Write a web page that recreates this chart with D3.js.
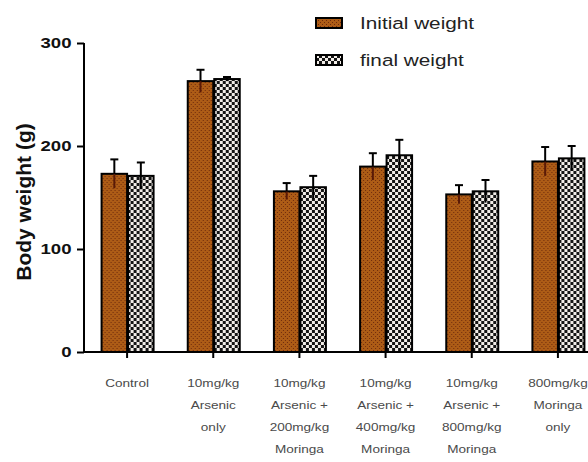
<!DOCTYPE html>
<html>
<head>
<meta charset="utf-8">
<script src="https://cdn.jsdelivr.net/npm/d3@7"></script>
<style>
  html, body { margin: 0; padding: 0; background: #fff; }
  svg { display: block; font-family: Arial, "Liberation Sans", sans-serif; }
</style>
</head>
<body>
<svg id="chart" width="588" height="462"></svg>
<script>
// Group labels (multi-line) and body weight means / SEM per group
const groups = ["Control", "Arsenic only", "Arsenic+200 Moringa", "Arsenic+400 Moringa", "Arsenic+800 Moringa", "Moringa only"];
const groupLabels = [
  ["Control"],
  ["10mg/kg", "Arsenic", "only"],
  ["10mg/kg", "Arsenic +", "200mg/kg", "Moringa"],
  ["10mg/kg", "Arsenic +", "400mg/kg", "Moringa"],
  ["10mg/kg", "Arsenic +", "800mg/kg", "Moringa"],
  ["800mg/kg", "Moringa", "only"]
];
const seriesNames = ["Initial weight", "final weight"];
const initialWeight = [173, 263, 156, 180, 153, 185];
const initialErr = [14, 11, 8, 13, 9, 14];
const finalWeight = [171, 265, 160, 191, 156, 188];
const finalErr = [13, 2, 11, 15, 11, 12];
const yTicks = [0, 100, 200, 300];

// Horizontal stretch applied to the labels
const WIDE = 1.24;

const svg = d3.select("#chart");
const defs = svg.append("defs");

// Brown dotted fill for initial weight
const pInit = defs.append("pattern").attr("id", "pInit")
  .attr("patternUnits", "userSpaceOnUse").attr("width", 4).attr("height", 4);
pInit.append("rect").attr("width", 4).attr("height", 4).attr("fill", "#ad5c16");
pInit.append("rect").attr("x", 0).attr("y", 0).attr("width", 1).attr("height", 1).attr("fill", "#6e2a0c");
pInit.append("rect").attr("x", 2).attr("y", 2).attr("width", 1).attr("height", 1).attr("fill", "#6e2a0c");

// Black/white checkerboard for final weight
const pFinal = defs.append("pattern").attr("id", "pFinal")
  .attr("patternUnits", "userSpaceOnUse").attr("width", 6).attr("height", 6);
pFinal.append("rect").attr("width", 6).attr("height", 6).attr("fill", "#141414");
pFinal.append("rect").attr("x", 0).attr("y", 0).attr("width", 3).attr("height", 3).attr("fill", "#f2ede8");
pFinal.append("rect").attr("x", 3).attr("y", 3).attr("width", 3).attr("height", 3).attr("fill", "#f2ede8");

const fills = ["url(#pInit)", "url(#pFinal)"];

const axisX = 84, axisY = 352;
const pIn = 0.385;
const x0 = d3.scaleBand().domain(groups).range([axisX, 601])
  .paddingInner(pIn).paddingOuter(pIn / 2);
const x1 = d3.scaleBand().domain(seriesNames).range([0, x0.bandwidth()]).padding(0);
const y = d3.scaleLinear().domain([0, 300]).range([axisY, 43]);

const rows = groups.map((g, i) => ({
  group: g,
  values: [
    { s: seriesNames[0], v: initialWeight[i], e: initialErr[i], k: 0 },
    { s: seriesNames[1], v: finalWeight[i], e: finalErr[i], k: 1 }
  ]
}));

// Bars
const gBars = svg.append("g");
const grp = gBars.selectAll("g.grp").data(rows).join("g")
  .attr("class", "grp")
  .attr("transform", d => `translate(${x0(d.group)},0)`);

grp.selectAll("rect").data(d => d.values).join("rect")
  .attr("x", d => x1(d.s) + 1)
  .attr("y", d => y(d.v))
  .attr("width", x1.bandwidth() - 1)
  .attr("height", d => y(0) - y(d.v))
  .attr("fill", d => fills[d.k])
  .attr("stroke", "#000")
  .attr("stroke-width", 2);

// Error bars (mean ± SEM); lower half shows over the bar
grp.selectAll("g.err").data(d => d.values).join("g")
  .attr("class", "err")
  .each(function(d) {
    const g = d3.select(this);
    const cx = x1(d.s) + x1.bandwidth() / 2 + 0.5;
    g.append("line").attr("x1", cx).attr("x2", cx)
      .attr("y1", y(d.v)).attr("y2", y(d.v - d.e))
      .attr("stroke", d.k === 0 ? "#5a1a06" : "#000").attr("stroke-width", 2);
    g.append("line").attr("x1", cx).attr("x2", cx)
      .attr("y1", y(d.v + d.e)).attr("y2", y(d.v))
      .attr("stroke", "#000").attr("stroke-width", 2);
    g.append("line").attr("x1", cx - 4).attr("x2", cx + 4)
      .attr("y1", y(d.v + d.e)).attr("y2", y(d.v + d.e))
      .attr("stroke", "#000").attr("stroke-width", 2);
  });

// Y axis
const yAxis = d3.axisLeft(y).tickValues(yTicks).tickSize(7).tickPadding(3);
const gy = svg.append("g").attr("transform", `translate(${axisX},0)`).call(yAxis);
gy.select(".domain").attr("stroke", "#000").attr("stroke-width", 2)
  .attr("d", `M0,${y(300)}V${axisY + 1}`);
gy.selectAll(".tick line").attr("stroke", "#000").attr("stroke-width", 2);
gy.selectAll(".tick text").attr("fill", "#111")
  .attr("x", -12.5 / WIDE)
  .attr("transform", `scale(${WIDE},1)`)
  .style("font-size", "15px").style("font-weight", "bold")
  .style("font-family", "Arial, 'Liberation Sans', sans-serif");

// X axis
const xAxis = d3.axisBottom(x0).tickSize(6).tickFormat("");
const gx = svg.append("g").attr("transform", `translate(0,${axisY})`).call(xAxis);
gx.select(".domain").attr("stroke", "#000").attr("stroke-width", 2)
  .attr("d", `M${axisX - 1},0H588`);
gx.selectAll(".tick line").attr("stroke", "#000").attr("stroke-width", 2);

// Multi-line category labels
const lbl = svg.append("g").selectAll("text").data(groups).join("text")
  .attr("transform", g => `translate(${x0(g) + x0.bandwidth() / 2},387) scale(1.15,1)`)
  .attr("text-anchor", "middle")
  .attr("fill", "#4a4a4a")
  .style("font-size", "11.8px");
lbl.each(function(g, i) {
  d3.select(this).selectAll("tspan").data(groupLabels[i]).join("tspan")
    .attr("x", 0)
    .attr("dy", (t, j) => j === 0 ? 0 : 22)
    .text(t => t);
});

// Y axis title
svg.append("text")
  .attr("transform", `translate(31,202) rotate(-90)`)
  .attr("text-anchor", "middle")
  .attr("fill", "#111")
  .style("font-size", "21px").style("font-weight", "bold")
  .text("Body weight (g)");

// Legend
const leg = svg.append("g").selectAll("g").data(seriesNames).join("g")
  .attr("transform", (d, i) => `translate(316,${18 + i * 37})`);
leg.append("rect").attr("width", 26).attr("height", 10)
  .attr("fill", (d, i) => fills[i]).attr("stroke", "#000").attr("stroke-width", 2);
leg.append("text").attr("transform", `translate(44,11) scale(${WIDE - 0.02},1)`)
  .attr("fill", "#222")
  .style("font-size", "17px")
  .text(d => d);
</script>
</body>
</html>
